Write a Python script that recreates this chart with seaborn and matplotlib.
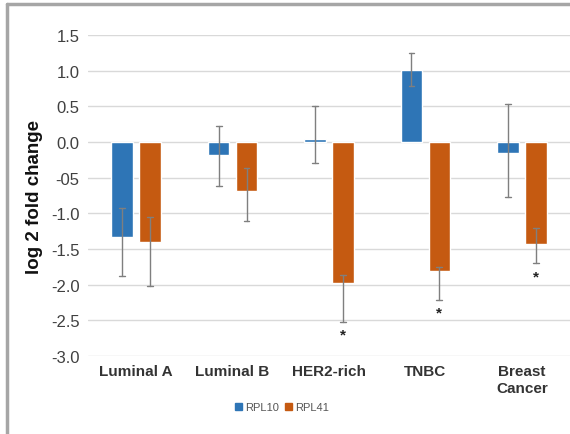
import matplotlib
matplotlib.use("Agg")
import matplotlib.pyplot as plt
from matplotlib.lines import Line2D
from matplotlib.patches import Patch
import numpy as np
import pandas as pd
import seaborn as sns

# data
groups = ["Luminal A", "Luminal B", "HER2-rich", "TNBC", "Breast\nCancer"]
genes = ["RPL10", "RPL41"]
rpl10 = [-1.33, -0.18, 0.05, 1.01, -0.15]
rpl41 = [-1.40, -0.68, -1.98, -1.81, -1.43]
rpl10_hi = [-0.92, 0.23, 0.51, 1.25, 0.53]
rpl10_lo = [-1.88, -0.62, -0.30, 0.78, -0.77]
rpl41_hi = [-1.05, -0.37, -1.86, -1.75, -1.20]
rpl41_lo = [-2.02, -1.10, -2.52, -2.21, -1.70]
rpl41_sig = [False, False, True, True, True]

yticks = [1.5, 1.0, 0.5, 0.0, -0.5, -1.0, -1.5, -2.0, -2.5, -3.0]
ytick_labels = ["1.5", "1.0", "0.5", "0.0", "-05", "-1.0", "-1.5", "-2.0", "-2.5", "-3.0"]

colors = ["#2E75B6", "#C55A11"]

df = pd.DataFrame({
    "group": groups * 2,
    "gene": [genes[0]] * 5 + [genes[1]] * 5,
    "value": rpl10 + rpl41,
})

sns.set_style("white")
plt.rcParams['font.family'] = ['Liberation Sans', 'DejaVu Sans']

fig = plt.figure(figsize=(5.7, 4.35), dpi=100)
ax = fig.add_axes([0.1544, 0.1793, 0.8456, 0.7377])

sns.barplot(data=df, x="group", y="value", hue="gene", palette=colors,
            saturation=1, width=0.58, gap=0.23, ax=ax, legend=False, zorder=2)

# error bars from bar centres
bars = ax.patches
his = [rpl10_hi, rpl41_hi]
los = [rpl10_lo, rpl41_lo]
for k in range(2):
    for i in range(5):
        p = bars[k * 5 + i]
        xc = p.get_x() + p.get_width() / 2
        ax.plot([xc, xc], [los[k][i], his[k][i]], color="#7f7f7f", lw=1.0, zorder=3)
        for yy in (los[k][i], his[k][i]):
            ax.plot([xc - 0.03, xc + 0.03], [yy, yy], color="#7f7f7f", lw=1.0, zorder=3)
        if k == 1 and rpl41_sig[i]:
            ax.text(xc, los[k][i] - 0.08, "*", ha="center", va="top",
                    fontsize=11, fontweight="bold", color="#222222")

ax.set_ylim(-3.0, 1.5)
ax.set_xlim(-0.5, 4.5)
ax.set_yticks(yticks)
ax.set_yticklabels(ytick_labels, fontsize=12, color="#404040")
ax.set_xticks(range(5))
ax.set_xticklabels(groups, fontsize=11, fontweight="bold", color="#333333",
                   linespacing=1.2)
ax.tick_params(axis="both", length=0, pad=6)
ax.set_xlabel("")
ax.set_ylabel("log 2 fold change", fontsize=13.5, fontweight="bold", color="#111111",
              labelpad=6)
ax.yaxis.grid(True, color="#d9d9d9", lw=1.0, zorder=0)
ax.set_axisbelow(True)
for s in ax.spines.values():
    s.set_visible(False)

handles = [Patch(color=c, label=g) for c, g in zip(colors, genes)]
fig.legend(handles=handles, loc="center", bbox_to_anchor=(0.495, 0.062), ncol=2,
           frameon=False, fontsize=8, handlelength=0.6, handleheight=0.6,
           handletextpad=0.3, columnspacing=0.6, labelcolor="#555555")

# outer frame (left and top)
fig.add_artist(Line2D([0.013, 0.013], [0.0, 0.988], color="#a6a6a6", lw=2.5))
fig.add_artist(Line2D([0.013, 1.0], [0.988, 0.988], color="#a6a6a6", lw=2.5))

fig.savefig("out.png", dpi=100)
